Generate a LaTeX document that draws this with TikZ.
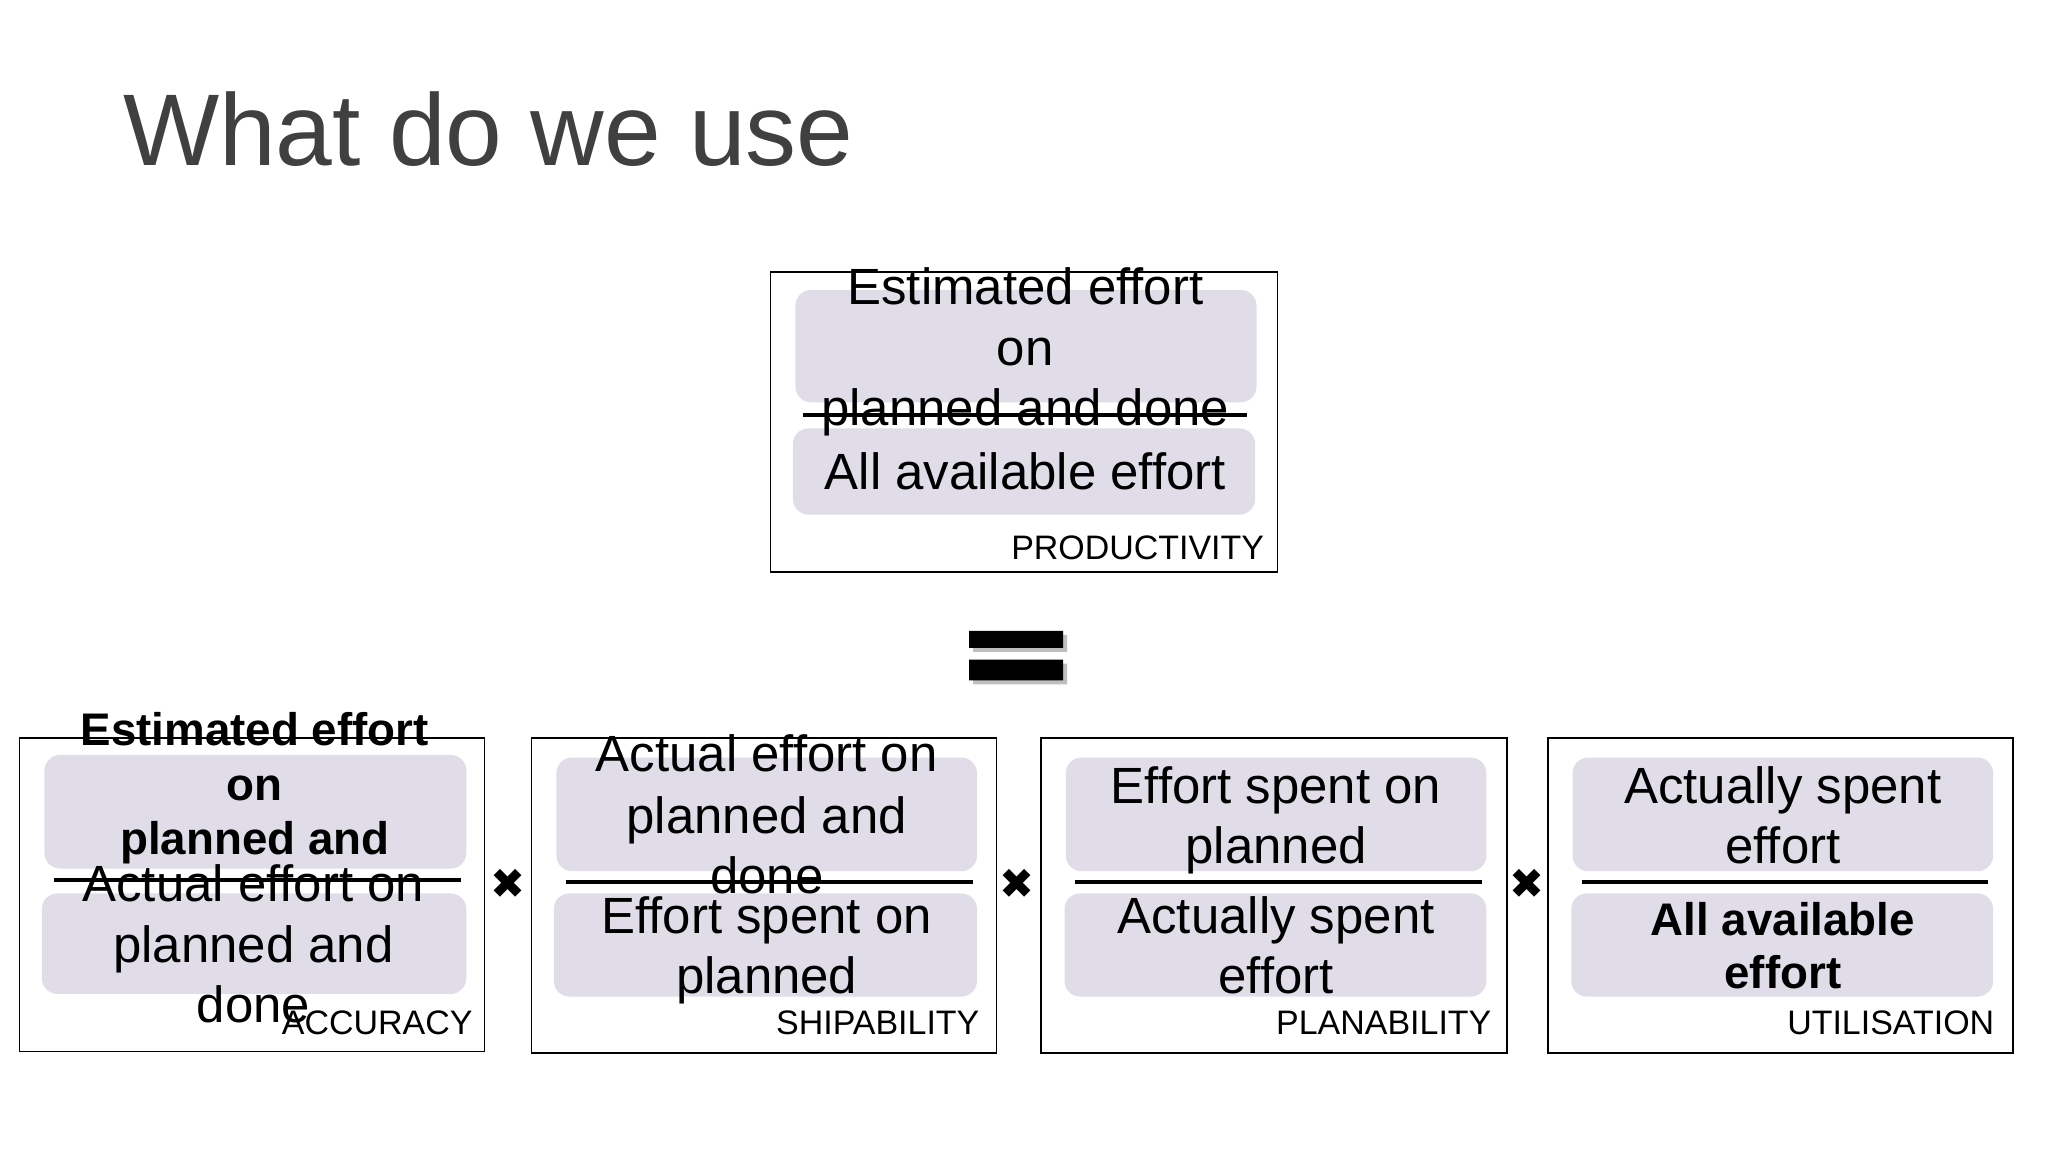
\documentclass[tikz,border=0pt]{standalone}
\usepackage{fontspec}
\setmainfont{Liberation Sans}
\newfontfamily\djv{DejaVu Sans}
\begin{document}
\begin{tikzpicture}[x=1pt,y=-1pt,
  frame/.style={draw=black,line width=1.3pt},
  pill/.style={fill=pillc,rounded corners=12pt},
  bar/.style={line width=3pt},
  txt/.style={anchor=base,inner sep=0,font=\fontsize{39}{42}\selectfont},
  btxt/.style={anchor=base,inner sep=0,font=\fontsize{35}{38}\selectfont\bfseries},
  lbl/.style={anchor=base east,inner sep=0,font=\fontsize{26}{28}\selectfont},
  times/.style={inner sep=0,font=\fontsize{32}{34}\djv}]
\definecolor{pillc}{HTML}{E0DDE8}
\useasboundingbox[fill=white] (0,0) rectangle (1568,882);
\node[anchor=base west,inner sep=0,text=black!75,font=\fontsize{78}{88}\selectfont] (title) at (94,127) {What do we use};
% productivity
\draw[frame] (590,208) rectangle (978,438);
\fill[pill] (609,222) rectangle (962,308);
\fill[pill] (607,328) rectangle (961,394);
\node[txt] (p1) at (785,233) {Estimated effort};
\node[txt] (p2) at (785,280) {on};
\node[txt] (p3) at (785,326) {planned and done};
\draw[bar] (615,318) -- (955,318);
\node[txt] (p4) at (785,375) {All available effort};
\node[lbl] (pl) at (968,428) {PRODUCTIVITY};
% equals
\fill[black!25] (745,486) rectangle (817,499) (745,508) rectangle (817,524);
\fill[black] (742,483) rectangle (814,496) (742,505) rectangle (814,521);
% box 1
\draw[frame] (15,565) rectangle (371,805);
\fill[pill] (34,578) rectangle (357,665);
\fill[pill] (32,684) rectangle (357,761);
\node[btxt] (a1) at (195,571) {Estimated effort};
\node[btxt] (a2) at (195,613) {on};
\node[btxt] (a3) at (195,654) {planned and};
\draw[bar] (41,674) -- (353,674);
\node[txt] (a4) at (194,690) {Actual effort on};
\node[txt] (a5) at (194,737) {planned and};
\node[txt] (a6) at (194,783) {done};
\node[lbl] (al) at (362,792) {ACCURACY};
\node[times] (x1) at (389,677) {✖};
% box 2
\draw[frame] (407,565) rectangle (763,806);
\fill[pill] (426,580) rectangle (748,667);
\fill[pill] (424,684) rectangle (748,763);
\node[txt] (b1) at (587,591) {Actual effort on};
\node[txt] (b2) at (587,638) {planned and};
\node[txt] (b3) at (587,684) {done};
\draw[bar] (433,675) -- (745,675);
\node[txt] (b4) at (587,715) {Effort spent on};
\node[txt] (b5) at (587,761) {planned};
\node[lbl] (bl) at (750,792) {SHIPABILITY};
\node[times] (x2) at (779,677) {✖};
% box 3
\draw[frame] (797,565) rectangle (1154,806);
\fill[pill] (816,580) rectangle (1138,667);
\fill[pill] (815,684) rectangle (1138,763);
\node[txt] (c1) at (977,615) {Effort spent on};
\node[txt] (c2) at (977,661) {planned};
\draw[bar] (823,675) -- (1135,675);
\node[txt] (c3) at (977,715) {Actually spent};
\node[txt] (c4) at (977,761) {effort};
\node[lbl] (cl) at (1142,792) {PLANABILITY};
\node[times] (x3) at (1169,677) {✖};
% box 4
\draw[frame] (1185,565) rectangle (1541,806);
\fill[pill] (1204,580) rectangle (1526,667);
\fill[pill] (1203,684) rectangle (1526,763);
\node[txt] (d1) at (1365,615) {Actually spent};
\node[txt] (d2) at (1365,661) {effort};
\draw[bar] (1211,675) -- (1522,675);
\node[btxt] (d3) at (1365,716) {All available};
\node[btxt] (d4) at (1365,757) {effort};
\node[lbl] (dl) at (1527,792) {UTILISATION};
\end{tikzpicture}
\end{document}
